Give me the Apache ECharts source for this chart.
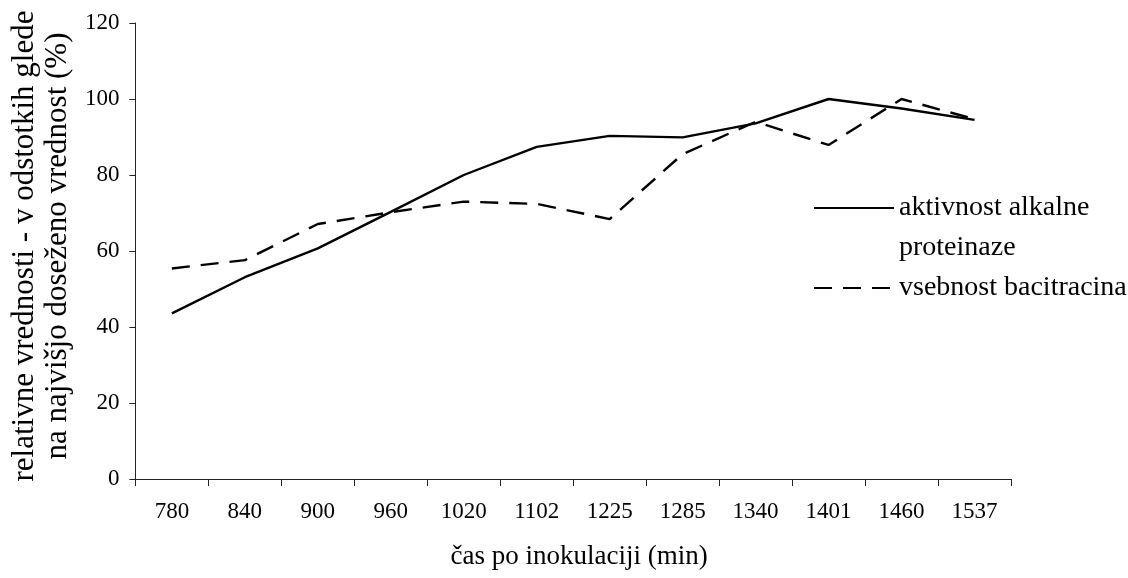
<!DOCTYPE html>
<html>
<head>
<meta charset="utf-8">
<script src="https://cdn.jsdelivr.net/npm/echarts@6/dist/echarts.min.js"></script>
<style>html,body{margin:0;padding:0;background:#fff}#c{width:1128px;height:578px}</style>
</head>
<body>
<div id="c"></div>
<script>
const categories = ['780','840','900','960','1020','1102','1225','1285','1340','1401','1460','1537'];
const proteinaze = [43.6, 53.1, 60.7, 70.3, 80.0, 87.4, 90.3, 89.9, 93.6, 100.0, 97.5, 94.5];
const bacitracin = [55.4, 57.6, 67.1, 70.2, 73.0, 72.4, 68.4, 85.5, 94.0, 87.9, 100.0, 94.7];
const yTicks = [0, 20, 40, 60, 80, 100, 120];
const nameA = 'aktivnost alkalne proteinaze';
const nameB = 'vsebnost bacitracina';

const FONT = 'Liberation Serif';
const chart = echarts.init(document.getElementById('c'), null, {renderer: 'canvas'});
const axisLine = {show: true, lineStyle: {color: '#222', width: 1}};
chart.setOption({
  animation: false,
  backgroundColor: '#fff',
  textStyle: {fontFamily: FONT, color: '#000'},
  grid: {left: 135, right: 117, top: 23, bottom: 99, containLabel: false},
  legend: [{
    data: [nameA], orient: 'vertical', left: 813, top: 148, padding: 0,
    itemWidth: 80, itemHeight: 14,
    itemStyle: {opacity: 0},
    formatter: () => '\naktivnost alkalne\nproteinaze',
    textStyle: {fontFamily: FONT, fontSize: 28, color: '#000', lineHeight: 40}
  }, {
    data: [nameB], orient: 'vertical', left: 813, top: 268, padding: 0,
    itemWidth: 80, itemHeight: 14,
    itemStyle: {opacity: 0},
    textStyle: {fontFamily: FONT, fontSize: 28, color: '#000', lineHeight: 40}
  }],
  xAxis: {
    type: 'category', data: categories, boundaryGap: true,
    axisLine: axisLine,
    axisTick: {show: true, length: 7, lineStyle: {color: '#222'}},
    axisLabel: {fontFamily: FONT, fontSize: 23, color: '#000', margin: 21},
    name: 'čas po inokulaciji (min)', nameLocation: 'middle', nameGap: 64,
    nameTextStyle: {fontFamily: FONT, fontSize: 27, color: '#000', padding: [0, 0, 0, 12]}
  },
  yAxis: {
    type: 'value', min: yTicks[0], max: yTicks[yTicks.length - 1], interval: yTicks[1] - yTicks[0],
    axisLine: axisLine,
    axisTick: {show: true, length: 6, lineStyle: {color: '#222'}},
    splitLine: {show: false},
    axisLabel: {fontFamily: FONT, fontSize: 23, color: '#000', margin: 16},
    name: 'relativne vrednosti - v odstotkih glede\nna najvišjo doseženo vrednost (%)',
    nameLocation: 'middle', nameRotate: 90, nameGap: 53,
    nameTextStyle: {fontFamily: FONT, fontSize: 31, color: '#000', lineHeight: 33, padding: [0, 0, 0, 10]}
  },
  series: [{
    name: nameA, type: 'line', data: proteinaze, symbol: 'none', smooth: false,
    lineStyle: {color: '#000', width: 2.4, type: 'solid'}, itemStyle: {color: '#000'}
  }, {
    name: nameB, type: 'line', data: bacitracin, symbol: 'none', smooth: false,
    lineStyle: {color: '#000', width: 2.4, type: [18, 11]}, itemStyle: {color: '#000'}
  }]
});
</script>
</body>
</html>
